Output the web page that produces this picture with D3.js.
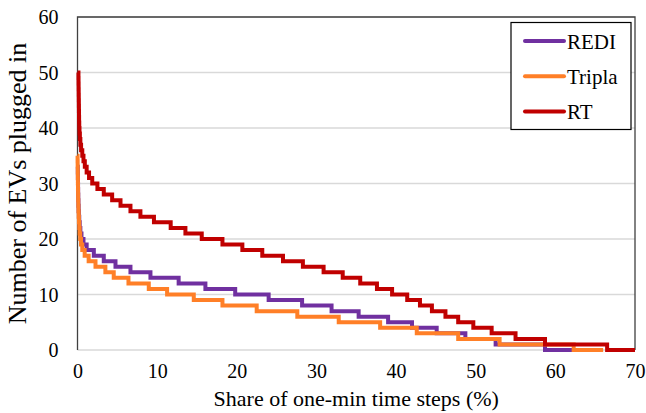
<!DOCTYPE html>
<html>
<head>
<meta charset="utf-8">
<script src="https://cdn.jsdelivr.net/npm/d3@7"></script>
<style>
	body { margin: 0; background: #fff; }
	svg { display: block; font-family: "Liberation Serif", "Times New Roman", serif; }
</style>
</head>
<body>
<script>
// Series names and colours (legend order)
var seriesNames = ["REDI", "Tripla", "RT"];
var seriesColors = ["#7030A0", "#FF7F27", "#C00000"];

// Number of EVs plugged in: each level holds until the matching "end" share (%)
var rediLevels = [33, 32, 31, 30, 29, 28, 27, 26, 25, 24, 23, 22, 21, 20, 19, 18, 17, 16, 15, 14, 13, 12, 11, 10, 9, 8, 7, 6, 5, 4, 3, 2, 1, 0];
var rediEnds = [0.04, 0.05, 0.06, 0.07, 0.08, 0.1, 0.12, 0.15, 0.18, 0.22, 0.28, 0.36, 0.5, 0.75, 1.15,
	2.05, 3.3, 4.77, 6.65, 9.16, 12.7, 16.06, 19.8, 24.0, 28.2, 31.9, 35.3, 39.0, 42.0, 45.1, 48.7, 52.5, 58.7, 62.3];

var triplaLevels = [35, 34, 33, 32, 31, 30, 29, 28, 27, 26, 25, 24, 23, 22, 21, 20, 19, 18, 17, 16, 15, 14, 13, 12, 11, 10, 9, 8, 7, 6, 5, 4, 3, 2, 1, 0];
var triplaEnds = [0.01, 0.02, 0.03, 0.04, 0.05, 0.06, 0.07, 0.08, 0.1, 0.12, 0.15, 0.18, 0.22, 0.27, 0.34, 0.44, 0.6, 0.9,
	1.4, 2.26, 3.5, 4.55, 6.4, 8.95, 11.25, 14.6, 18.2, 22.5, 27.6, 32.8, 38.0, 42.6, 47.8, 53.0, 62.3, 66.0];

var rtLevels = [50, 49, 48, 47, 46, 45, 44, 43, 42, 41, 40, 39, 38, 37, 36, 35, 34, 33, 32, 31, 30, 29, 28, 27, 26, 25, 24, 23, 22, 21, 20, 19, 18, 17, 16, 15, 14, 13, 12, 11, 10, 9, 8, 7, 6, 5, 4, 3, 2, 1, 0];
var rtEnds = [0.12, 0.13, 0.14, 0.15, 0.16, 0.17, 0.18, 0.19, 0.2, 0.22, 0.25, 0.3, 0.36, 0.45, 0.6, 0.75, 0.92, 1.15, 1.45, 1.85,
	2.5, 3.3, 4.35, 5.4, 6.65, 7.9, 9.6, 11.7, 13.55, 15.6, 18.2, 20.7, 23.2, 25.8, 28.3, 30.9, 33.3, 35.5, 37.6, 39.5,
	41.4, 43.0, 44.5, 46.2, 47.8, 49.7, 52.0, 55.0, 58.7, 66.5, 70];

// Tick values
var xTicks = [0, 10, 20, 30, 40, 50, 60, 70];
var yTicks = [0, 10, 20, 30, 40, 50, 60];

var width = 646;
var height = 413;
var plotLeft = 77.5, plotRight = 635, plotTop = 17, plotBottom = 350;
var serif = "'Liberation Serif', 'Times New Roman', serif";

var svg = d3.select("body")
	.append("svg")
	.attr("width", width)
	.attr("height", height);

var x = d3.scaleLinear().domain([0, 70]).range([plotLeft, plotRight]);
var y = d3.scaleLinear().domain([0, 60]).range([plotBottom, plotTop]);

// Gridlines
svg.append("g")
	.selectAll("line")
	.data(yTicks)
	.enter()
	.append("line")
	.attr("x1", plotLeft)
	.attr("x2", plotRight)
	.attr("y1", function(d) { return y(d); })
	.attr("y2", function(d) { return y(d); })
	.attr("stroke", "#d9d9d9")
	.attr("stroke-width", 1.3);

// Plot frame (top, left and right are dark)
svg.append("path")
	.attr("d", "M" + plotLeft + "," + plotBottom + "V" + plotTop + "H" + plotRight + "V" + plotBottom)
	.attr("fill", "none")
	.attr("stroke", "#404040")
	.attr("stroke-width", 1.3);

// Turn levels + ends into step points
function stepPoints(levels, ends) {
	var pts = [];
	var start = 0;
	for (var i = 0; i < levels.length; i++) {
		pts.push([start, levels[i]]);
		start = ends[i];
	}
	pts.push([start, levels[levels.length - 1]]);
	return pts;
}

var allSeries = [
	stepPoints(rediLevels, rediEnds),
	stepPoints(triplaLevels, triplaEnds),
	stepPoints(rtLevels, rtEnds)
];

var line = d3.line()
	.x(function(d) { return x(d[0]); })
	.y(function(d) { return y(d[1]); })
	.curve(d3.curveStepAfter);

svg.append("g")
	.selectAll("path")
	.data(allSeries)
	.enter()
	.append("path")
	.attr("d", line)
	.attr("fill", "none")
	.attr("stroke", function(d, i) { return seriesColors[i]; })
	.attr("stroke-width", 4)
	.attr("stroke-linejoin", "miter");

// Axes (labels only, the frame is drawn above)
var xAxis = svg.append("g")
	.attr("transform", "translate(0," + plotBottom + ")")
	.call(d3.axisBottom(x).tickValues(xTicks).tickSize(0).tickPadding(14));
var yAxis = svg.append("g")
	.attr("transform", "translate(" + plotLeft + ",0)")
	.call(d3.axisLeft(y).tickValues(yTicks).tickSize(0).tickPadding(19));
svg.selectAll(".domain").remove();
svg.selectAll(".tick text")
	.attr("font-family", serif)
	.attr("font-size", 20)
	.attr("fill", "#000");
yAxis.selectAll(".tick text").attr("dy", "0.34em");

// Axis titles
svg.append("text")
	.attr("x", (plotLeft + plotRight) / 2)
	.attr("y", 406)
	.attr("text-anchor", "middle")
	.attr("font-family", serif)
	.attr("font-size", 22)
	.text("Share of one-min time steps (%)");

svg.append("text")
	.attr("transform", "translate(26," + ((plotTop + plotBottom) / 2) + ") rotate(-90)")
	.attr("text-anchor", "middle")
	.attr("font-family", serif)
	.attr("font-size", 26)
	.text("Number of EVs plugged in");

// Legend
var legend = svg.append("g");
legend.append("rect")
	.attr("x", 511)
	.attr("y", 22.5)
	.attr("width", 120)
	.attr("height", 107)
	.attr("fill", "#fff")
	.attr("stroke", "#000")
	.attr("stroke-width", 1.2);

var items = legend.selectAll("g.item")
	.data(seriesNames)
	.enter()
	.append("g")
	.attr("class", "item")
	.attr("transform", function(d, i) { return "translate(0," + (41 + i * 35.3) + ")"; });

items.append("line")
	.attr("x1", 525)
	.attr("x2", 564)
	.attr("stroke", function(d, i) { return seriesColors[i]; })
	.attr("stroke-width", 4)
	.attr("stroke-linecap", "round");

items.append("text")
	.attr("x", 567)
	.attr("y", 7.5)
	.attr("font-family", serif)
	.attr("font-size", 21)
	.text(function(d) { return d; });
</script>
</body>
</html>
